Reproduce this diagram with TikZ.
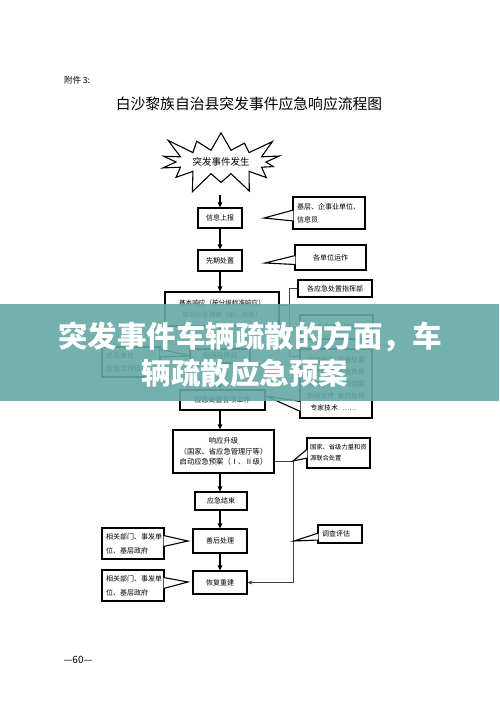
\documentclass[tikz,border=0pt]{standalone}
\usepackage{fontspec}
\setmainfont{Noto Sans CJK SC}
\usetikzlibrary{shapes.symbols,arrows.meta,calc}
\definecolor{bandcol}{RGB}{100,168,166}
\newcommand\mytail[3]{\fill[white] #1 -- #2 -- #3 -- cycle; \draw[tail] #1 -- #2 -- #3;}
\begin{document}
\begin{tikzpicture}[x=1pt,y=-1pt,
  box/.style={draw,line width=1.1pt,inner sep=0pt,align=center,font=\fontsize{7}{11}\selectfont},
  note/.style={draw,line width=1.1pt,fill=white,inner xsep=4pt,inner ysep=2pt,align=left,font=\fontsize{7}{13}\selectfont},
  arr/.style={line width=1.2pt,-{Triangle[length=5pt,width=4.5pt]}},
  link/.style={line width=0.7pt,draw=black!75},
  tail/.style={line width=1.1pt,line join=miter}]
\useasboundingbox (0,0) rectangle (499,706);
\fill[white] (0,0) rectangle (499,706);

% header
\node[font=\fontsize{8.5}{10}\selectfont] (fj) at (77,80) {附件 3:};
\node[font=\fontsize{14.8}{16}\selectfont] (title) at (249,104) {白沙黎族自治县突发事件应急响应流程图};

% star
\node[starburst,draw,line width=1.1pt,starburst points=14,starburst point height=24pt,
      minimum width=138pt,minimum height=72pt,inner sep=0pt,font=\fontsize{9.5}{11}\selectfont] (star) at (221,162) {突发事件发生};
\coordinate (sb) at (220,195);

% main column
\node[box,minimum width=44pt,minimum height=20pt] (info) at (220,218) {信息上报};
\node[box,minimum width=44pt,minimum height=21pt] (first) at (220,260.5) {先期处置};
\node[box,minimum width=114pt,minimum height=34pt,font=\fontsize{6.6}{12}\selectfont] (basic) at (222,309) {基本响应（按分级标准响应）\\启动应急预案（Ⅲ、Ⅳ级）};
\node[box,minimum width=60pt,minimum height=14pt] (field) at (220,356) {现场指挥部};
\node[box,minimum width=85pt,minimum height=20pt] (work) at (222.5,400) {应急处置各项工作};
\node[box,minimum width=101pt,minimum height=43pt,font=\fontsize{7.3}{10.5}\selectfont] (upg) at (223.5,451.5) {响应升级\\（国家、省应急管理厅等）\\启动应急预案（Ⅰ、Ⅱ级）};
\node[box,minimum width=52pt,minimum height=18pt] (end) at (221,501) {应急结束};
\node[box,minimum width=54pt,minimum height=24pt] (after) at (220,541) {善后处理};
\node[box,minimum width=54pt,minimum height=23pt] (restore) at (220,582.5) {恢复重建};

\draw[arr] (sb) -- (info.north);
\draw[arr] (info.south) -- (first.north);
\draw[arr] (first.south) -- (first.south |- basic.north);
\draw[arr] (first.south |- basic.south) -- (field.north);
\draw[arr] (field.south) -- (field.south |- work.north);
\draw[arr] (field.south |- work.south) -- (field.south |- upg.north);
\draw[arr] (field.south |- upg.south) -- (field.south |- end.north);
\draw[arr] (field.south |- end.south) -- (after.north);
\draw[arr] (after.south) -- (restore.north);

% right group of basic response
\node[box,minimum width=74pt,minimum height=17pt] (cmdA) at (335,288.5) {各应急处置指挥部};
\node[box,minimum width=73pt,minimum height=24pt,font=\fontsize{6.5}{8}\selectfont] (cmdB) at (336.5,327) {各专项指挥部};
\node[box,minimum width=72pt,minimum height=69pt,font=\fontsize{6.8}{12}\selectfont] (cmdC) at (336,383.5) {综合协调\ \ 应急处置\\医疗救护\ \ 应急救援\\治安维护\ \ 人员疏散\\新闻宣传\ \ 善后处理\\专家技术\ \ \ ……\ \ \ \ };
\coordinate (bt) at (289,288.5);
\coordinate (bm) at (289,305);
\coordinate (bn) at (289,327);
\coordinate (bb) at (289,356);
\draw[link] (bt) -- (bb);
\draw[link] (basic.east |- bm) -- (bm);
\draw[link] (bt) -- (cmdA.west);
\draw[link] (bn) -- (cmdB.west);
\draw[link] (bb) -- (cmdC.west |- bb);
\coordinate (tipC) at (266,396);
\mytail{($(cmdC.west)+(1,18)$)}{(tipC)}{($(cmdC.west)+(1,28)$)}

% callouts
\node[note,text width=64pt,minimum height=32pt] (c1) at (329,213) {基层、企事业单位、\\信息员};
\coordinate (t1) at (264,218);
\mytail{($(c1.west)+(1,-3)$)}{(t1)}{($(c1.west)+(1,8)$)}

\node[note,text width=63pt,minimum height=25pt,align=center] (c2) at (330.5,257.5) {各单位运作};
\coordinate (t2) at (265,263);
\mytail{($(c2.west)+(1,-2)$)}{(t2)}{($(c2.west)+(1,7)$)}

\node[note,text width=50pt,minimum height=30pt] (c0) at (131,362) {成员单位\\应急工作组};
\coordinate (t0) at (190,356);
\mytail{($(c0.east)+(-1,-13)$)}{(t0)}{($(c0.east)+(-1,-5)$)}

\node[note,inner xsep=3pt,text width=57pt,minimum height=30pt,font=\fontsize{6.3}{11}\selectfont] (c3) at (338.5,453) {国家、省级力量和资\\源联合处置};
\coordinate (j1) at (293,461);
\coordinate (j2) at (293,582.5);
\draw[link] (upg.east |- j1) -- (j1) -- (j2);
\draw[link,-{Triangle[length=4pt,width=3.5pt]}] (j2) -- (restore.east);
\mytail{($(c3.west)+(1,-4)$)}{(j1)}{($(c3.west)+(1,5)$)}

\node[note,text width=36pt,minimum height=18pt] (c4) at (340,534) {调查评估};
\coordinate (t4) at (294,541);
\mytail{($(c4.west)+(1,-1)$)}{(t4)}{($(c4.west)+(1,6)$)}

\node[note,text width=54pt,minimum height=31pt,font=\fontsize{7}{14}\selectfont] (l1) at (133,543.5) {相关部门、事发单\\位、基层政府};
\coordinate (tl1) at (188,541);
\mytail{($(l1.east)+(-1,-8)$)}{(tl1)}{($(l1.east)+(-1,3)$)}

\node[note,text width=54pt,minimum height=31pt,font=\fontsize{7}{14}\selectfont] (l2) at (133,585.5) {相关部门、事发单\\位、基层政府};
\coordinate (tl2) at (188,582);
\mytail{($(l2.east)+(-1,-8)$)}{(tl2)}{($(l2.east)+(-1,3)$)}

% page number
\node[font=\fontsize{10}{12}\selectfont] (pg) at (78,660) {—60—};

% overlay band
\fill[bandcol,opacity=0.9] (0,304) rectangle (499,401);
\node[text=white,font=\bfseries\fontsize{29.5}{32}\selectfont] (ov1) at (250,337) {突发事件车辆疏散的方面，车};
\node[text=white,font=\bfseries\fontsize{29.5}{32}\selectfont] (ov2) at (245,373) {辆疏散应急预案};
\end{tikzpicture}
\end{document}
